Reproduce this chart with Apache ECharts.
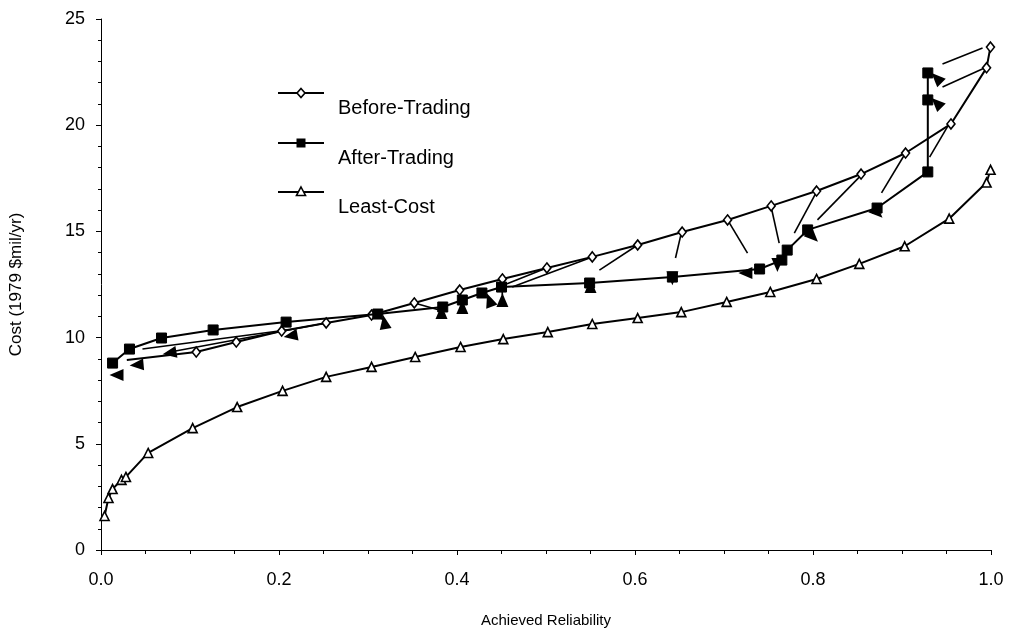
<!DOCTYPE html>
<html>
<head>
<meta charset="utf-8">
<script src="https://cdn.jsdelivr.net/npm/echarts@6/dist/echarts.min.js"></script>
<style>
  html, body { margin: 0; padding: 0; background: #fff; }
  #chart { width: 1012px; height: 633px; }
</style>
</head>
<body>
<div id="chart"></div>
<script>
// Cost vs achieved reliability: before trading, after trading, least-cost frontier.
const xTicks = [0, 0.2, 0.4, 0.6, 0.8, 1.0];
const yTicks = [0, 5, 10, 15, 20, 25];

const beforeTrading = [
  [0.029, 8.95], [0.107, 9.32], [0.152, 9.79], [0.203, 10.31], [0.253, 10.69],
  [0.304, 11.06], [0.352, 11.63], [0.403, 12.24], [0.451, 12.76], [0.501, 13.28],
  [0.552, 13.80], [0.603, 14.36], [0.653, 14.97], [0.704, 15.54], [0.753, 16.20],
  [0.804, 16.90], [0.854, 17.70], [0.904, 18.69], [0.955, 20.06], [0.995, 22.70],
  [0.9994, 23.68]
];

const afterTrading = [
  [0.013, 8.80], [0.032, 9.46], [0.068, 9.98], [0.126, 10.36], [0.208, 10.73],
  [0.311, 11.11], [0.384, 11.44], [0.406, 11.77], [0.428, 12.10], [0.450, 12.38],
  [0.549, 12.57], [0.642, 12.85], [0.740, 13.23], [0.765, 13.65], [0.771, 14.12],
  [0.794, 15.07], [0.872, 16.10], [0.929, 17.80], [0.929, 21.19], [0.929, 22.46]
];

const leastCost = [
  [0.004, 1.60], [0.0084, 2.45], [0.013, 2.87], [0.023, 3.30], [0.028, 3.44],
  [0.053, 4.57], [0.103, 5.74], [0.153, 6.73], [0.204, 7.49], [0.253, 8.15],
  [0.304, 8.62], [0.353, 9.09], [0.404, 9.56], [0.452, 9.93], [0.502, 10.26],
  [0.552, 10.64], [0.603, 10.92], [0.652, 11.20], [0.703, 11.68], [0.752, 12.15],
  [0.804, 12.76], [0.852, 13.47], [0.903, 14.30], [0.953, 15.60], [0.995, 17.30],
  [0.9995, 17.90]
];

// Shift shafts: from a before-trading point toward its after-trading position.
const shiftShafts = [
  [[0.9905, 23.63], [0.9455, 22.88]],
  [[0.9927, 22.69], [0.9455, 21.80]],
  [[0.951, 19.92], [0.931, 18.50]],
  [[0.904, 18.69], [0.877, 16.81]],
  [[0.8545, 17.66], [0.805, 15.54]],
  [[0.804, 16.86], [0.779, 14.92]],
  [[0.753, 16.15], [0.762, 14.45]],
  [[0.704, 15.54], [0.7264, 13.98]],
  [[0.652, 14.92], [0.6455, 13.75]],
  [[0.603, 14.36], [0.560, 13.18]],
  [[0.552, 13.79], [0.462, 12.38]],
  [[0.5006, 13.28], [0.4556, 12.52]],
  [[0.4028, 12.24], [0.4062, 11.63]],
  [[0.450, 12.76], [0.451, 12.00]],
  [[0.352, 11.63], [0.380, 11.30]],
  [[0.304, 11.06], [0.318, 10.85]],
  [[0.253, 10.69], [0.0837, 9.37]],
  [[0.2085, 10.36], [0.0466, 9.46]]
];

// Arrowheads: [reliability, cost, heading in degrees counter-clockwise from up]
const shiftHeads = [
  [0.0174, 8.24, 90], [0.040, 8.71, 95], [0.077, 9.27, 100], [0.213, 10.08, 100],
  [0.3185, 10.73, 10], [0.3826, 11.20, 0], [0.406, 11.44, 0], [0.4365, 11.77, 20],
  [0.451, 11.77, 0], [0.550, 12.43, 0], [0.642, 12.80, 180], [0.724, 13.04, 90],
  [0.760, 13.42, 180], [0.800, 14.74, 225], [0.8725, 15.87, 225],
  [0.9388, 22.22, 45], [0.9388, 21.05, 45]
];

const chart = echarts.init(document.getElementById('chart'), null, { renderer: 'canvas' });

const font = 'Arial, "Liberation Sans", sans-serif';
const ink = '#000';

const legendRows = [
  { name: 'Before-Trading', y: 93, symbol: 'diamond' },
  { name: 'After-Trading', y: 143, symbol: 'square' },
  { name: 'Least-Cost', y: 192, symbol: 'triangle' }
];

function legendMarker(row) {
  const cx = 301, cy = row.y;
  if (row.symbol === 'diamond') {
    return { type: 'polygon', shape: { points: [[cx, cy - 4.5], [cx + 4, cy], [cx, cy + 4.5], [cx - 4, cy]] },
             style: { fill: '#fff', stroke: ink, lineWidth: 1.6 } };
  }
  if (row.symbol === 'square') {
    return { type: 'rect', shape: { x: cx - 4.5, y: cy - 4.5, width: 9, height: 9 }, style: { fill: ink } };
  }
  return { type: 'polygon', shape: { points: [[cx, cy - 5], [cx + 4.5, cy + 3.5], [cx - 4.5, cy + 3.5]] },
           style: { fill: '#fff', stroke: ink, lineWidth: 1.6 } };
}

const legendGraphics = [];
legendRows.forEach(row => {
  legendGraphics.push({ type: 'line', shape: { x1: 278, y1: row.y, x2: 324, y2: row.y },
                        style: { stroke: ink, lineWidth: 2 } });
  legendGraphics.push(legendMarker(row));
  legendGraphics.push({ type: 'text', x: 338, y: row.y + 15,
                        style: { text: row.name, font: '20px ' + font, fill: ink,
                                 textVerticalAlign: 'middle' } });
});

chart.setOption({
  animation: false,
  backgroundColor: '#fff',
  grid: { left: 101, right: 21, top: 19, bottom: 83, containLabel: false, outerBoundsMode: 'none' },
  xAxis: {
    type: 'value', min: xTicks[0], max: xTicks[xTicks.length - 1], interval: 0.2,
    name: 'Achieved Reliability', nameLocation: 'middle', nameGap: 63,
    nameTextStyle: { fontFamily: font, fontSize: 15, color: ink },
    axisLine: { lineStyle: { color: ink, width: 1 } },
    axisTick: { show: true, length: 5, lineStyle: { color: ink } },
    minorTick: { show: true, splitNumber: 4, length: 4, lineStyle: { color: ink } },
    splitLine: { show: false },
    axisLabel: { fontFamily: font, fontSize: 18, color: ink, margin: 21,
                 formatter: v => v.toFixed(1) }
  },
  yAxis: {
    type: 'value', min: yTicks[0], max: yTicks[yTicks.length - 1], interval: 5,
    name: 'Cost (1979 $mil/yr)', nameLocation: 'middle', nameGap: 76, nameRotate: 90,
    nameTextStyle: { fontFamily: font, fontSize: 17, color: ink },
    axisLine: { show: true, lineStyle: { color: ink, width: 1 } },
    axisTick: { show: true, length: 5, lineStyle: { color: ink } },
    minorTick: { show: true, splitNumber: 5, length: 3, lineStyle: { color: ink } },
    splitLine: { show: false },
    axisLabel: { fontFamily: font, fontSize: 18, color: ink, margin: 16 }
  },
  graphic: legendGraphics,
  series: [
    {
      name: 'Least-Cost', type: 'line', data: leastCost,
      symbol: 'triangle', symbolSize: 9, showAllSymbol: true,
      lineStyle: { color: ink, width: 2 },
      itemStyle: { color: '#fff', borderColor: ink, borderWidth: 1.6 },
      z: 3
    },
    {
      name: 'Shifts', type: 'lines', coordinateSystem: 'cartesian2d',
      data: shiftShafts.map(c => ({ coords: c })),
      lineStyle: { color: ink, width: 1.6, opacity: 1 },
      symbol: ['none', 'none'],
      z: 2
    },
    {
      name: 'Before-Trading', type: 'line',
      data: beforeTrading.map((p, i) => i === 0 ? { value: p, symbol: 'none' } : p),
      symbol: 'diamond', symbolSize: [8, 10], showAllSymbol: true,
      lineStyle: { color: ink, width: 2 },
      itemStyle: { color: '#fff', borderColor: ink, borderWidth: 1.6 },
      z: 4
    },
    {
      name: 'After-Trading', type: 'line', data: afterTrading,
      symbol: 'rect', symbolSize: 10, showAllSymbol: true,
      lineStyle: { color: ink, width: 2 },
      itemStyle: { color: ink, borderColor: ink },
      z: 5
    },
    {
      name: 'Heads', type: 'scatter',
      data: shiftHeads.map(h => [h[0], h[1], h[2]]),
      symbol: 'triangle', symbolSize: [12, 14],
      symbolRotate: (v) => v[2],
      itemStyle: { color: ink, opacity: 1 },
      z: 6
    }
  ]
});
</script>
</body>
</html>
